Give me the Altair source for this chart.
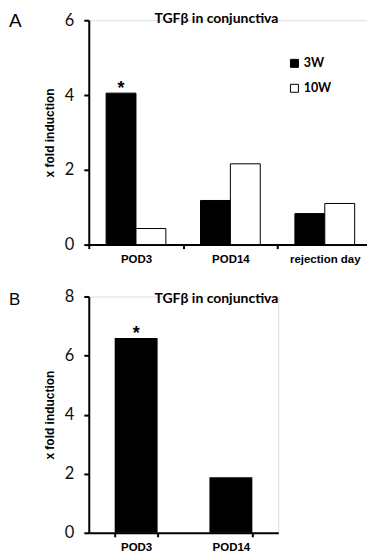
import altair as alt
import pandas as pd

# Panel A data
cats_a = ["POD3", "POD14", "rejection day"]
series_a = ["3W", "10W"]
vals_3w = [4.05, 1.18, 0.83]
vals_10w = [0.43, 2.16, 1.10]
yticks_a = [0, 2, 4, 6]

# Panel B data
cats_b = ["POD3", "POD14"]
vals_b = [6.59, 1.88]
yticks_b = [0, 2, 4, 6, 8]

title_text = "TGFβ in conjunctiva"

rows = []
for c, v3, v10 in zip(cats_a, vals_3w, vals_10w):
    rows.append({"cat": c, "series": "3W", "value": v3, "star": "*" if c == "POD3" else ""})
    rows.append({"cat": c, "series": "10W", "value": v10, "star": ""})
df_a = pd.DataFrame(rows)
df_b = pd.DataFrame({"cat": cats_b, "value": vals_b, "star": ["*", ""]})

NUM_FONT = "Lato"
BOLD_FONT = "Liberation Sans"

def yaxis(ticks):
    return alt.Axis(values=ticks, grid=False, domainColor="black", domainWidth=2,
                    tickColor="black", tickWidth=2, tickSize=5,
                    labelFont=NUM_FONT, labelFontSize=16.5, labelColor="#111",
                    labelPadding=10, title="x fold induction", titleFont=BOLD_FONT,
                    titleFontSize=12, titleFontWeight="bold", titleColor="black",
                    titlePadding=8)

def xaxis(pad):
    return alt.Axis(title=None, labelAngle=0, domainColor="black", domainWidth=2,
                    tickColor="black", tickWidth=2, tickSize=4, tickBand="extent",
                    labelFont=BOLD_FONT, labelFontSize=11.5, labelFontWeight="bold",
                    labelColor="black", labelPadding=pad)

# ---- Panel A ----
xA = alt.X("cat:N", sort=cats_a, scale=alt.Scale(paddingInner=0, paddingOuter=0), axis=xaxis(5))
yA = alt.Y("value:Q", scale=alt.Scale(domain=[0, 6], nice=False), axis=yaxis(yticks_a))
offA = alt.XOffset("series:N", sort=series_a, scale=alt.Scale(paddingInner=0, paddingOuter=0.58))

bars_a = alt.Chart(df_a).mark_bar(stroke="black", strokeWidth=1).encode(
    x=xA,
    xOffset=offA,
    y=yA,
    fill=alt.Fill("series:N", sort=series_a,
                  scale=alt.Scale(domain=series_a, range=["black", "white"]),
                  legend=alt.Legend(title=None, orient="none", legendX=200, legendY=37,
                                    symbolType="square", symbolSize=64, symbolStrokeColor="black",
                                    symbolStrokeWidth=1, labelFont=NUM_FONT, labelFontSize=12.5,
                                    labelFontWeight="bold", labelColor="black", rowPadding=12,
                                    labelOffset=3)),
)
star_a = alt.Chart(df_a).mark_text(fontSize=18, fontWeight="bold", font=BOLD_FONT,
                                   baseline="bottom", dy=5, color="black").encode(
    x=xA, xOffset=offA, y=yA, text="star:N",
)
title_a = alt.Chart(pd.DataFrame({"t": [title_text]})).mark_text(
    font=NUM_FONT, fontSize=14, fontWeight="bold", color="black", baseline="middle", align="center"
).encode(x=alt.value(128), y=alt.value(-1), text="t:N")
label_a = alt.Chart(pd.DataFrame({"t": ["A"]})).mark_text(
    font=BOLD_FONT, fontSize=19, color="black", baseline="top", align="left"
).encode(x=alt.value(-80), y=alt.value(-8.5), text="t:N")

chart_a = alt.layer(bars_a, star_a, title_a, label_a).properties(width=284, height=225)

# ---- Panel B ----
xB = alt.X("cat:N", sort=cats_b, scale=alt.Scale(paddingInner=0.547, paddingOuter=0.2735), axis=xaxis(4.5))
yB = alt.Y("value:Q", scale=alt.Scale(domain=[0, 8], nice=False), axis=yaxis(yticks_b))

bars_b = alt.Chart(df_b).mark_bar(color="black").encode(x=xB, y=yB)
star_b = alt.Chart(df_b).mark_text(fontSize=18, fontWeight="bold", font=BOLD_FONT,
                                   baseline="bottom", dy=5, color="black").encode(x=xB, y=yB, text="star:N")
title_b = alt.Chart(pd.DataFrame({"t": [title_text]})).mark_text(
    font=NUM_FONT, fontSize=14, fontWeight="bold", color="black", baseline="middle", align="center"
).encode(x=alt.value(128), y=alt.value(3), text="t:N")
label_b = alt.Chart(pd.DataFrame({"t": ["B"]})).mark_text(
    font=BOLD_FONT, fontSize=17, color="black", baseline="top", align="left"
).encode(x=alt.value(-80), y=alt.value(-4.5), text="t:N")

chart_b = alt.layer(bars_b, star_b, title_b, label_b).properties(width=190, height=237)

chart = alt.vconcat(chart_a, chart_b, spacing=22).resolve_scale(
    x="independent", y="independent", fill="independent", xOffset="independent"
).properties(
    padding={"left": 0, "top": 2.5, "right": -7, "bottom": 0}
).configure_view(stroke=None).configure(background="white")

chart.save("out.html", embed_options={"renderer": "svg", "actions": False})
